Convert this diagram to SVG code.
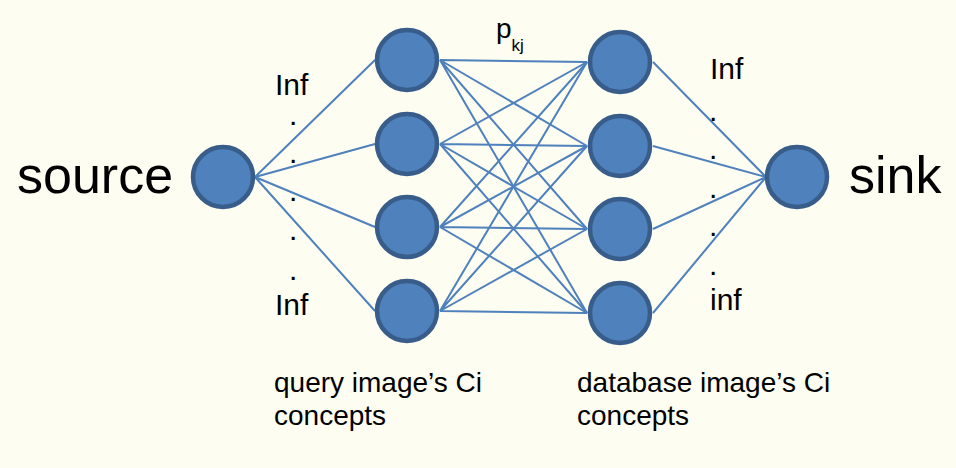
<svg xmlns="http://www.w3.org/2000/svg" width="956" height="468" viewBox="0 0 956 468">
<style>
.n{fill:#4f81bd;stroke:#385d8a;stroke-width:4.5}
.e{stroke:#4f81bd;stroke-width:2;fill:none}
.t{font-family:"Liberation Sans",Arial,sans-serif;fill:#000}
</style>
<rect width="956" height="468" fill="#fdfdf1"/>
<g id="connectors" class="e">
<path d="M255 177L375 60M255 177L375 144M255 177L375 227M255 177L375 311"/>
<path d="M440 60L587 62M440 60L587 146M440 60L587 229M440 60L587 313"/>
<path d="M440 144L587 62M440 144L587 146M440 144L587 229M440 144L587 313"/>
<path d="M440 227L587 62M440 227L587 146M440 227L587 229M440 227L587 313"/>
<path d="M440 311L587 62M440 311L587 146M440 311L587 229M440 311L587 313"/>
<path d="M653 62L766 177M653 146L766 177M653 229L766 177M653 313L766 177"/>
</g>
<g id="source"><circle class="n" cx="223" cy="177" r="30"/><text class="t" x="17" y="193" font-size="52">source</text></g>
<g id="q1"><circle class="n" cx="407" cy="60" r="30"/></g>
<g id="q2"><circle class="n" cx="407" cy="144" r="30"/></g>
<g id="q3"><circle class="n" cx="407" cy="227" r="30"/></g>
<g id="q4"><circle class="n" cx="407" cy="311" r="30"/></g>
<g id="d1"><circle class="n" cx="620" cy="62" r="30"/></g>
<g id="d2"><circle class="n" cx="620" cy="146" r="30"/></g>
<g id="d3"><circle class="n" cx="620" cy="229" r="30"/></g>
<g id="d4"><circle class="n" cx="620" cy="313" r="30"/></g>
<g id="sink"><circle class="n" cx="797" cy="177" r="30"/><text class="t" x="849" y="193" font-size="52">sink</text></g>
<g id="labels" class="t" font-size="30">
<text x="275" y="95">Inf</text>
<text x="289" y="125">.</text><text x="289" y="163">.</text><text x="289" y="201">.</text><text x="289" y="240">.</text><text x="289" y="280">.</text>
<text x="275" y="315">Inf</text>
<text x="710" y="79">Inf</text>
<text x="709" y="121">.</text><text x="709" y="159">.</text><text x="709" y="198">.</text><text x="709" y="236">.</text><text x="709" y="275">.</text>
<text x="710" y="310">inf</text>
<text x="496" y="38" font-size="28">p<tspan font-size="17" dy="13">kj</tspan></text>
</g>
<g id="captions" class="t" font-size="28">
<text x="274" y="392">query image’s Ci</text>
<text x="274" y="425">concepts</text>
<text x="577" y="392">database image’s Ci</text>
<text x="577" y="425">concepts</text>
</g>
</svg>
